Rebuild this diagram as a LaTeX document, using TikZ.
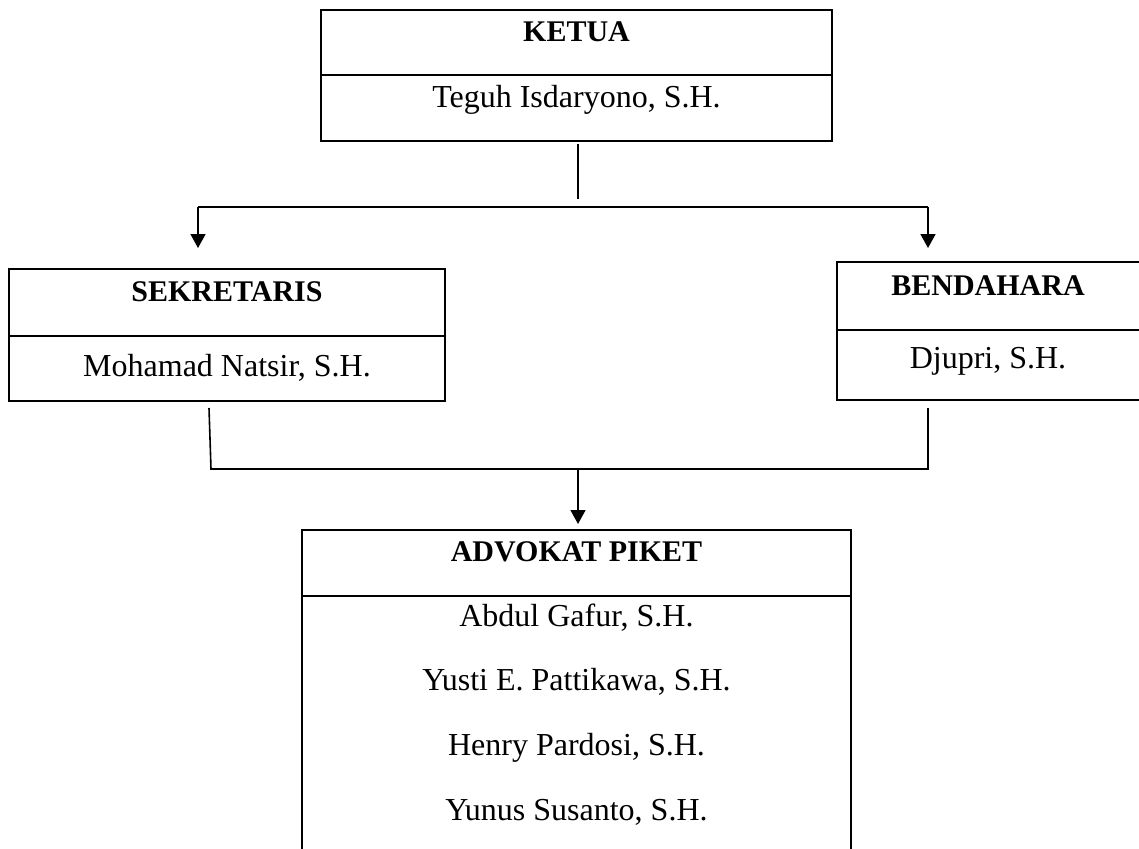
\documentclass[tikz,border=0pt]{standalone}
\usepackage{fontspec}
\setmainfont{Liberation Serif}
\usetikzlibrary{arrows.meta}
\begin{document}
\begin{tikzpicture}[x=1pt,y=-1pt,
  box/.style={draw, line width=2.3pt, inner sep=0pt},
  divline/.style={line width=2.3pt},
  conn/.style={line width=1.6pt},
  arr/.style={line width=1.6pt, -{Triangle[width=15pt,length=14pt]}},
  headtext/.style={anchor=base, inner sep=0pt, font=\fontsize{30}{36}\selectfont\bfseries},
  persontext/.style={anchor=base, inner sep=0pt, font=\fontsize{32}{38}\selectfont}
]
\useasboundingbox (0,0) rectangle (1139,848);

% boxes
\node[box, minimum width=511pt, minimum height=131pt] (ketua) at (576.5,75.5) {};
\node[box, minimum width=436pt, minimum height=132pt] (sekr) at (227,335) {};
\node[box, minimum width=308pt, minimum height=138pt] (bend) at (991,331) {};
\node[box, minimum width=549pt, minimum height=340pt] (adv) at (576.5,700) {};

% dividers
\coordinate (kd) at (0,75);
\coordinate (sd) at (0,336);
\coordinate (bd) at (0,330);
\coordinate (ad) at (0,596);
\draw[divline] (ketua.west |- kd) -- (ketua.east |- kd);
\draw[divline] (sekr.west |- sd) -- (sekr.east |- sd);
\draw[divline] (bend.west |- bd) -- (bend.east |- bd);
\draw[divline] (adv.west |- ad) -- (adv.east |- ad);

% texts
\node[headtext] (tk) at (576.5,41.7) {KETUA};
\node[persontext] (nk) at (576.5,107) {Teguh Isdaryono, S.H.};
\node[headtext] (ts) at (227,301.7) {SEKRETARIS};
\node[persontext] (ns) at (227,376.7) {Mohamad Natsir, S.H.};
\node[headtext] (tb) at (988,295) {BENDAHARA};
\node[persontext] (nb) at (988,368) {Djupri, S.H.};
\node[headtext] (ta) at (576.5,561.7) {ADVOKAT PIKET};
\node[persontext] (a1) at (576.5,626) {Abdul Gafur, S.H.};
\node[persontext] (a2) at (576.5,690) {Yusti E. Pattikawa, S.H.};
\node[persontext] (a3) at (576.5,755) {Henry Pardosi, S.H.};
\node[persontext] (a4) at (576.5,820) {Yunus Susanto, S.H.};

% connector coordinates
\coordinate (k1) at (578,144);
\coordinate (k2) at (578,199);
\coordinate (hl) at (198,207);
\coordinate (hr) at (928,207);
\coordinate (tl) at (198,248);
\coordinate (tr) at (928,248);
\coordinate (s1) at (209,408);
\coordinate (s2) at (211,469);
\coordinate (b1) at (928,408);
\coordinate (b2) at (928,469);
\coordinate (m1) at (578,469);
\coordinate (m2) at (578,524);

\draw[conn] (k1) -- (k2);
\draw[conn] (hl) -- (hr);
\draw[arr] (hl) -- (tl);
\draw[arr] (hr) -- (tr);
\draw[conn] (s1) -- (s2) -- (b2) -- (b1);
\draw[arr] (m1) -- (m2);
\end{tikzpicture}
\end{document}
